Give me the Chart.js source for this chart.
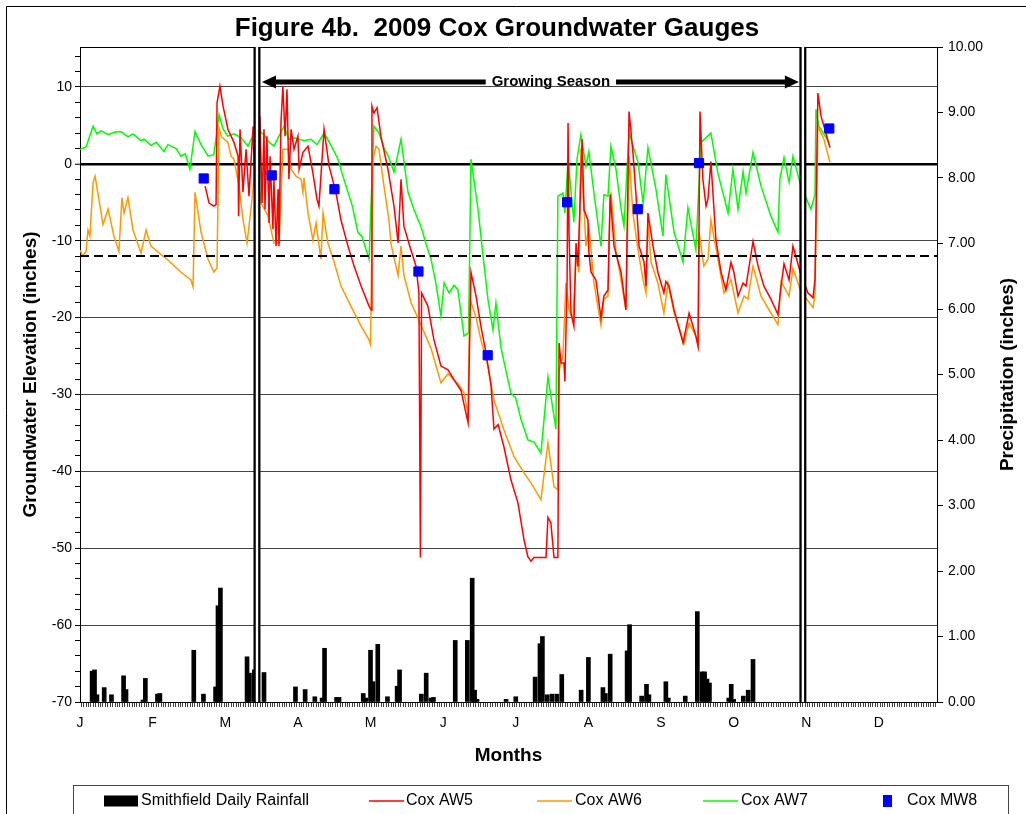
<!DOCTYPE html>
<html>
<head>
<meta charset="utf-8">
<title>Figure 4b. 2009 Cox Groundwater Gauges</title>
<script src="https://cdn.jsdelivr.net/npm/chart.js@4.4.1/dist/chart.umd.min.js"></script>
<style>
    html, body { margin: 0; padding: 0; background: #fff; }
    #wrap { width: 1026px; height: 814px; }
</style>
</head>
<body>
<div id="wrap"><canvas id="chart" width="1026" height="814"></canvas></div>
<script>
// x values are days from Jan 1, one month label every 30 days
const monthLetters = ["J", "F", "M", "A", "M", "J", "J", "A", "S", "O", "N", "D"];
const seasonBounds = [73.1, 298.6];
const criterionLevel = -12;

const rainDays = [5, 6, 7, 10, 13, 18, 19, 26, 27, 32, 33, 47, 51, 56, 57, 58, 69, 70, 72, 73, 76, 89, 93, 97, 100, 101, 106, 107, 117, 118, 120, 121, 123, 127, 131, 132, 141, 143, 145, 146, 155, 160, 162, 163, 164, 176, 180, 188, 190, 191, 193, 195, 197, 199, 207, 210, 216, 217, 219, 226, 227, 232, 234, 235, 242, 243, 250, 255, 257, 258, 259, 260, 268, 269, 270, 274, 276, 278];
const rainInches = [0.47, 0.49, 0.11, 0.22, 0.11, 0.40, 0.19, 0.03, 0.36, 0.12, 0.13, 0.79, 0.12, 0.23, 1.47, 1.74, 0.69, 0.44, 0.49, 0.34, 0.45, 0.23, 0.19, 0.08, 0.06, 0.82, 0.07, 0.07, 0.13, 0.06, 0.79, 0.31, 0.88, 0.08, 0.24, 0.49, 0.12, 0.44, 0.06, 0.07, 0.94, 0.94, 1.89, 0.18, 0.04, 0.04, 0.08, 0.38, 0.89, 1.00, 0.11, 0.12, 0.12, 0.42, 0.18, 0.68, 0.22, 0.13, 0.73, 0.78, 1.18, 0.09, 0.27, 0.11, 0.31, 0.06, 0.09, 1.38, 0.46, 0.46, 0.35, 0.29, 0.06, 0.27, 0.04, 0.09, 0.18, 0.65];

const aw5Days = [51.7, 53.3, 55.3, 56.2, 56.6, 57.8, 59.1, 61.1, 63.6, 65.3, 65.5, 66.1, 67.3, 68.6, 69.8, 71.5, 72.3, 73.1, 73.9, 74.3, 75.2, 76.0, 76.4, 77.2, 78.1, 78.5, 79.7, 80.1, 81.0, 81.8, 82.2, 83.0, 83.8, 84.7, 85.5, 86.3, 87.2, 88.4, 90.0, 90.5, 92.1, 94.2, 96.2, 97.9, 98.7, 100.8, 102.9, 105.7, 107.8, 110.7, 113.2, 116.1, 119.4, 120.3, 120.6, 121.4, 122.7, 124.3, 127.2, 129.7, 131.4, 132.6, 133.8, 136.7, 138.8, 140.0, 140.6, 141.1, 143.7, 146.2, 149.1, 152.0, 154.5, 157.4, 159.4, 160.3, 161.5, 163.6, 165.6, 167.7, 169.8, 171.0, 172.7, 175.1, 178.0, 180.9, 183.4, 185.0, 186.3, 187.5, 192.5, 193.3, 194.5, 195.8, 197.4, 197.9, 198.7, 199.9, 200.3, 201.2, 201.6, 202.0, 202.8, 204.0, 204.9, 205.7, 207.4, 208.2, 209.8, 210.2, 211.1, 213.1, 215.2, 216.4, 218.1, 219.0, 220.6, 223.5, 225.5, 226.8, 228.4, 229.7, 230.9, 233.0, 233.8, 234.6, 236.7, 238.7, 241.2, 242.0, 243.3, 245.4, 249.1, 251.6, 254.4, 255.3, 256.1, 257.3, 258.6, 259.4, 260.6, 262.7, 264.8, 266.8, 268.9, 270.1, 271.8, 273.9, 275.1, 278.0, 280.1, 282.5, 285.4, 288.3, 289.6, 290.8, 292.9, 294.5, 297.8, 300.7, 302.8, 303.6, 304.8, 306.1, 307.3, 309.8];
const aw5Level = [-2.9, -5.1, -5.5, -5.3, 7.9, 10.1, 7.5, 4.5, 2.8, 1.0, -6.8, 4.5, -3.7, 1.9, -4.2, 4.9, -4.6, 9.4, -4.2, 6.2, -5.1, 4.5, -5.9, 3.6, -7.7, 1.0, -8.5, -2.0, -10.7, -3.3, -10.7, 5.3, 10.1, 3.6, 9.7, -2.0, 4.5, 1.9, 3.6, -0.7, 1.5, 2.3, -1.2, -4.6, -5.5, 4.5, -0.3, -3.7, -7.3, -10.7, -13.3, -15.9, -18.5, -19.0, 7.5, 6.6, 7.3, 3.6, -0.7, -5.5, -10.3, -2.0, -8.1, -11.2, -13.3, -16.8, -51.2, -16.8, -18.5, -22.9, -26.3, -26.8, -28.1, -29.5, -32.4, -33.7, -14.1, -17.2, -21.1, -24.6, -28.9, -34.5, -33.9, -36.8, -41.1, -44.1, -48.9, -51.1, -51.7, -51.2, -51.2, -46.0, -46.7, -51.2, -51.2, -23.3, -25.9, -25.9, -28.3, -15.1, 5.3, -8.9, -19.4, -21.1, -10.3, -13.3, 3.2, -6.0, -7.3, -11.5, -14.1, -15.1, -20.0, -17.2, -16.4, -4.0, -10.7, -14.1, -19.0, 6.8, 1.5, -4.2, -10.7, -12.8, -15.9, -6.4, -10.7, -14.1, -16.8, -15.3, -15.9, -19.0, -23.3, -19.4, -22.4, -23.7, 6.8, -2.0, -5.5, -4.6, 0.3, -9.9, -14.1, -16.4, -12.8, -14.1, -17.2, -15.5, -15.9, -10.1, -13.3, -15.9, -17.6, -19.6, -15.9, -13.0, -15.1, -10.7, -14.4, -16.8, -17.4, -15.0, 9.2, 6.2, 4.9, 2.1];

const aw6Days = [0, 1.1, 2.5, 3.3, 4.1, 5.4, 6.2, 7.8, 9.5, 11.6, 14.0, 16.1, 17.3, 18.2, 19.8, 21.9, 25.2, 27.3, 29.3, 33.5, 36.3, 41.7, 45.8, 46.7, 47.5, 50.0, 52.9, 55.3, 56.6, 57.4, 58.5, 61.1, 62.4, 63.6, 65.7, 67.3, 69.0, 70.6, 72.7, 74.8, 77.7, 80.1, 82.2, 83.8, 85.9, 87.2, 89.2, 91.3, 92.1, 92.5, 94.2, 96.2, 97.5, 99.5, 100.4, 102.4, 105.0, 107.8, 111.9, 116.1, 119.4, 120.0, 121.0, 122.3, 123.5, 125.6, 127.6, 128.5, 131.4, 132.6, 133.8, 136.7, 140.9, 145.0, 149.1, 152.0, 156.1, 158.6, 160.0, 160.3, 161.0, 163.6, 165.6, 168.5, 171.0, 175.1, 179.3, 183.4, 186.3, 190.4, 193.3, 195.8, 197.4, 197.9, 199.5, 200.7, 202.0, 203.6, 204.9, 206.1, 206.9, 209.0, 210.2, 212.3, 215.2, 216.4, 218.1, 218.9, 219.3, 221.4, 223.5, 225.5, 226.8, 228.4, 230.5, 232.6, 233.8, 234.6, 235.9, 238.7, 241.2, 242.9, 245.4, 249.5, 251.6, 254.4, 255.3, 255.7, 257.7, 259.4, 260.6, 263.5, 266.0, 268.9, 271.8, 274.3, 275.9, 278.0, 281.3, 285.4, 288.3, 289.6, 292.9, 294.5, 297.8, 302.8, 303.6, 304.8, 307.3, 309.8];
const aw6Level = [-11.2, -12.0, -11.4, -8.6, -9.4, -2.4, -1.6, -4.6, -7.9, -5.9, -9.4, -11.4, -4.4, -6.4, -4.4, -8.6, -11.6, -8.6, -10.7, -11.8, -12.5, -14.1, -15.1, -16.0, -3.7, -8.9, -12.4, -14.1, -13.5, 4.7, 3.5, 2.8, 1.0, 0.6, -2.9, -7.2, -10.3, -5.9, 0.6, -5.1, -6.8, -10.3, -10.3, 1.9, 1.9, -0.7, -1.6, -2.0, -3.7, -1.8, -6.4, -9.9, -7.7, -12.4, -6.4, -10.3, -12.8, -15.9, -18.5, -21.1, -22.9, -23.5, 0.6, 2.3, 1.9, -3.0, -7.3, -10.5, -14.5, -10.7, -14.5, -18.0, -21.0, -24.0, -28.5, -27.3, -28.6, -29.8, -32.0, -33.3, -17.5, -20.0, -22.9, -26.3, -30.7, -34.6, -38.1, -40.2, -41.5, -43.7, -36.3, -42.0, -42.4, -26.8, -25.0, -15.5, -19.0, -20.3, -12.0, -14.1, 2.0, -10.7, -8.1, -15.5, -21.0, -17.6, -17.2, -5.9, -3.7, -11.5, -15.1, -19.0, 1.0, -6.4, -11.2, -15.1, -16.8, -7.3, -12.8, -15.5, -19.4, -15.5, -19.4, -23.3, -20.7, -22.4, -23.7, -8.9, -13.3, -12.4, -7.3, -12.4, -16.8, -15.1, -19.4, -17.2, -17.6, -13.3, -17.2, -19.4, -20.9, -15.3, -17.2, -13.6, -16.6, -18.7, -17.0, 4.9, 3.2, 0.2];

const aw7Days = [0, 2.5, 5.4, 7.0, 8.7, 11.6, 14.0, 16.9, 19.8, 21.9, 25.2, 26.4, 29.3, 31.5, 34.7, 36.3, 39.7, 41.7, 43.5, 45.4, 47.5, 50.0, 52.9, 55.3, 57.4, 59.1, 61.1, 63.6, 66.5, 69.4, 72.7, 76.0, 78.1, 80.1, 84.3, 86.3, 88.4, 92.5, 95.4, 97.9, 100.8, 103.5, 106.6, 108.5, 110.7, 112.5, 114.8, 116.5, 119.4, 121.4, 123.5, 125.6, 127.6, 129.7, 132.6, 135.5, 138.0, 140.9, 143.0, 145.0, 147.0, 149.1, 150.4, 152.5, 154.5, 156.1, 158.6, 160.5, 161.5, 164.4, 166.5, 168.5, 170.6, 171.8, 173.9, 176.0, 178.0, 180.0, 182.2, 185.0, 187.5, 190.4, 193.3, 196.6, 197.4, 199.5, 200.3, 201.6, 204.0, 205.3, 206.9, 209.0, 210.2, 212.3, 215.2, 216.4, 218.1, 219.3, 221.4, 223.5, 224.7, 226.8, 230.5, 232.6, 234.6, 237.9, 240.8, 242.0, 245.4, 249.1, 251.1, 254.4, 256.5, 260.6, 263.5, 267.7, 269.7, 271.8, 273.9, 275.1, 278.0, 281.3, 285.4, 288.3, 289.1, 290.8, 292.9, 294.5, 297.8, 301.9, 303.6, 304.0, 305.2, 309.4];
const aw7Level = [1.9, 2.2, 4.9, 3.9, 4.3, 3.8, 4.1, 4.2, 3.5, 3.9, 3.0, 3.2, 2.4, 2.8, 1.6, 2.5, 2.0, 1.0, 1.3, -0.7, 4.2, 2.5, 1.0, 1.2, 6.4, 4.5, 3.6, 3.9, 3.4, 2.3, 4.5, 3.8, 2.8, 2.3, 4.9, 3.2, 3.4, 3.0, 3.2, 2.5, 4.0, 2.5, 0.6, -1.5, -3.7, -5.5, -8.9, -9.5, -12.4, 4.9, 4.0, 2.1, 0.8, -1.1, 3.2, -3.7, -6.0, -8.2, -10.5, -12.4, -15.5, -19.8, -15.5, -16.8, -15.8, -16.4, -22.4, -22.0, 0.6, -5.9, -12.0, -17.6, -21.6, -18.1, -23.9, -27.0, -29.8, -30.5, -33.3, -35.9, -36.2, -37.6, -27.7, -34.5, -4.2, -3.8, -6.4, 0.6, -7.6, 0.6, 3.8, -0.3, 1.6, -3.8, -10.7, -4.0, -4.2, 2.3, -0.7, -5.9, -8.1, 4.0, 0.2, -5.1, 2.1, -3.3, -9.4, -1.4, -8.9, -12.8, -5.7, -11.2, 2.8, 4.0, -1.2, -6.4, -0.7, -5.9, -1.0, -3.8, 1.5, -2.9, -6.8, -8.9, -2.0, 0.8, -2.4, 1.0, -2.9, -5.9, -4.0, 7.1, 4.9, 2.8];

const mw8Days = [51.1, 79.2, 105.1, 139.8, 168.4, 201.2, 230.4, 255.7, 309.5];
const mw8Level = [-1.9, -1.5, -3.3, -14.0, -24.9, -5.0, -5.9, 0.1, 4.6];

const FONT = "'Liberation Sans', Arial, sans-serif";

function points(days, values) {
    if (days.length !== values.length) throw new Error("length mismatch " + days.length + " / " + values.length);
    return days.map((d, i) => ({ x: d, y: values[i] }));
}

// layout-only positions for the hand drawn legend
const legendSlots = [
    { x: 104, w: 34, textX: 141 },
    { x: 369, w: 35, textX: 406 },
    { x: 537, w: 35, textX: 575 },
    { x: 703, w: 35, textX: 741 },
    { x: 883, w: 9, textX: 907 }
];

const decorations = {
    id: "decorations",
    beforeDraw(chart) {
        const { ctx, width, height } = chart;
        ctx.save();
        ctx.fillStyle = "#fff";
        ctx.fillRect(0, 0, width, height);
        ctx.restore();
    },
    afterDatasetsDraw(chart) {
        const { ctx, chartArea: area, scales: { x, y } } = chart;
        ctx.save();

        // plot frame top
        ctx.strokeStyle = "#000";
        ctx.lineWidth = 1;
        ctx.beginPath();
        ctx.moveTo(area.left, area.top + 0.5);
        ctx.lineTo(area.right, area.top + 0.5);
        ctx.stroke();

        // 12 inch criterion
        const yDash = y.getPixelForValue(criterionLevel);
        ctx.setLineDash([9, 5]);
        ctx.lineWidth = 2;
        ctx.beginPath();
        ctx.moveTo(area.left, yDash);
        ctx.lineTo(area.right, yDash);
        ctx.stroke();
        ctx.setLineDash([]);

        // growing season limits
        for (const day of seasonBounds) {
            const px = x.getPixelForValue(day);
            ctx.fillStyle = "#000";
            ctx.fillRect(px - 3.5, area.top, 7, area.bottom - area.top);
            ctx.fillStyle = "#fff";
            ctx.fillRect(px - 1.2, area.top, 2.4, area.bottom - area.top);
        }

        const left = x.getPixelForValue(seasonBounds[0]) + 5;
        const right = x.getPixelForValue(seasonBounds[1]) - 4;
        const ya = area.top + 35;
        ctx.fillStyle = "#000";
        ctx.fillRect(left + 12, ya - 2.5, right - left - 24, 5);
        ctx.beginPath();
        ctx.moveTo(left, ya);
        ctx.lineTo(left + 14, ya - 6.5);
        ctx.lineTo(left + 14, ya + 6.5);
        ctx.closePath();
        ctx.moveTo(right, ya);
        ctx.lineTo(right - 14, ya - 6.5);
        ctx.lineTo(right - 14, ya + 6.5);
        ctx.closePath();
        ctx.fill();

        const label = "Growing Season";
        ctx.font = "bold 15px " + FONT;
        const cx = x.getPixelForValue(194.5);
        const w = ctx.measureText(label).width;
        ctx.fillStyle = "#fff";
        ctx.fillRect(cx - w / 2 - 6, ya - 7, w + 12, 11);
        ctx.fillStyle = "#000";
        ctx.textAlign = "center";
        ctx.textBaseline = "middle";
        ctx.fillText(label, cx, ya);
        ctx.restore();
    },
    afterDraw(chart) {
        const { ctx, chartArea: area } = chart;
        ctx.save();
        ctx.fillStyle = "#000";
        ctx.textAlign = "center";
        ctx.textBaseline = "middle";
        ctx.font = "bold 26px " + FONT;
        ctx.fillText("Figure 4b.  2009 Cox Groundwater Gauges", 497, 29);

        // right axis title reads bottom to top
        ctx.save();
        ctx.translate(1008, (area.top + area.bottom) / 2);
        ctx.rotate(-Math.PI / 2);
        ctx.font = "bold 19px " + FONT;
        ctx.fillText("Precipitation (inches)", 0, 0);
        ctx.restore();

        // outer frame
        ctx.strokeStyle = "#000";
        ctx.lineWidth = 1;
        ctx.beginPath();
        ctx.moveTo(6.5, chart.height);
        ctx.lineTo(6.5, 6.5);
        ctx.lineTo(chart.width, 6.5);
        ctx.stroke();

        // legend
        const ly = 801;
        ctx.strokeStyle = "#444";
        ctx.strokeRect(73.5, 785.5, 935, 60);
        ctx.font = "16px " + FONT;
        ctx.textAlign = "left";
        chart.data.datasets.forEach((ds, i) => {
            const slot = legendSlots[i];
            if (ds.type === "bar") {
                ctx.fillStyle = "#000";
                ctx.fillRect(slot.x, ly - 5.5, slot.w, 11);
            } else if (ds.type === "line") {
                ctx.strokeStyle = ds.borderColor;
                ctx.lineWidth = 1.5;
                ctx.beginPath();
                ctx.moveTo(slot.x, ly);
                ctx.lineTo(slot.x + slot.w, ly);
                ctx.stroke();
            } else {
                ctx.fillStyle = ds.backgroundColor;
                ctx.fillRect(slot.x, ly - 6, slot.w, 12);
            }
            ctx.fillStyle = "#000";
            ctx.fillText(ds.label, slot.textX, ly);
        });
        ctx.restore();
    }
};

Chart.defaults.font.family = FONT;
Chart.defaults.color = "#000";

new Chart(document.getElementById("chart"), {
    type: "line",
    data: {
        datasets: [{
            type: "bar",
            label: "Smithfield Daily Rainfall",
            data: points(rainDays, rainInches),
            yAxisID: "yRain",
            backgroundColor: "#000",
            barThickness: 4,
            order: 4
        }, {
            type: "line",
            label: "Cox AW5",
            data: points(aw5Days, aw5Level),
            borderColor: "#ff0000",
            borderWidth: 1.5,
            pointRadius: 0,
            yAxisID: "y",
            order: 1
        }, {
            type: "line",
            label: "Cox AW6",
            data: points(aw6Days, aw6Level),
            borderColor: "#ff9900",
            borderWidth: 1.5,
            pointRadius: 0,
            yAxisID: "y",
            order: 2
        }, {
            type: "line",
            label: "Cox AW7",
            data: points(aw7Days, aw7Level),
            borderColor: "#00ff00",
            borderWidth: 1.5,
            pointRadius: 0,
            yAxisID: "y",
            order: 3
        }, {
            type: "scatter",
            label: "Cox MW8",
            data: points(mw8Days, mw8Level),
            backgroundColor: "#0000ff",
            borderColor: "#0000ff",
            pointStyle: "rect",
            pointRadius: 6.5,
            yAxisID: "y",
            order: 0
        }]
    },
    options: {
        responsive: false,
        animation: false,
        layout: { padding: { top: 47, left: 0, right: 0, bottom: 0 } },
        plugins: {
            legend: { display: false },
            tooltip: { enabled: false }
        },
        scales: {
            x: {
                type: "linear",
                min: 0,
                max: 354,
                offset: false,
                border: { color: "#000", width: 1 },
                grid: { drawOnChartArea: false, tickLength: 5, tickColor: "#444", tickWidth: 1 },
                ticks: {
                    stepSize: 1,
                    autoSkip: false,
                    includeBounds: false,
                    maxRotation: 0,
                    padding: 8,
                    font: { size: 14 },
                    callback: v => v % 30 === 0 ? monthLetters[v / 30] : ""
                },
                title: {
                    display: true,
                    text: "Months",
                    font: { size: 19, weight: "bold" },
                    padding: { top: 0, bottom: 47 }
                },
                afterFit: scale => { scale.height = 112; }
            },
            y: {
                position: "left",
                min: -70,
                max: 15.2,
                border: { color: "#000", width: 1 },
                grid: {
                    color: c => c.tick && c.tick.value % 10 === 0 ? (c.tick.value === 0 ? "#000" : "#444") : "rgba(0,0,0,0)",
                    lineWidth: c => c.tick && c.tick.value === 0 ? 2.5 : 1,
                    tickColor: "#000",
                    tickWidth: 1,
                    tickLength: 5
                },
                ticks: {
                    stepSize: 2,
                    autoSkip: false,
                    includeBounds: false,
                    padding: 3,
                    font: { size: 14 },
                    callback: v => v % 10 === 0 ? String(v) : ""
                },
                title: {
                    display: true,
                    text: "Groundwater Elevation (inches)",
                    font: { size: 19, weight: "bold" },
                    padding: { top: 19, bottom: 0 }
                },
                afterFit: scale => { scale.width = 80; }
            },
            yRain: {
                position: "right",
                min: 0,
                max: 10,
                border: { color: "#000", width: 1 },
                grid: { drawOnChartArea: false, tickLength: 6, tickColor: "#000" },
                ticks: {
                    stepSize: 1,
                    padding: 5,
                    font: { size: 14 },
                    callback: v => v.toFixed(2)
                },
                afterFit: scale => { scale.width = 89; }
            }
        }
    },
    plugins: [decorations]
});
</script>
</body>
</html>
